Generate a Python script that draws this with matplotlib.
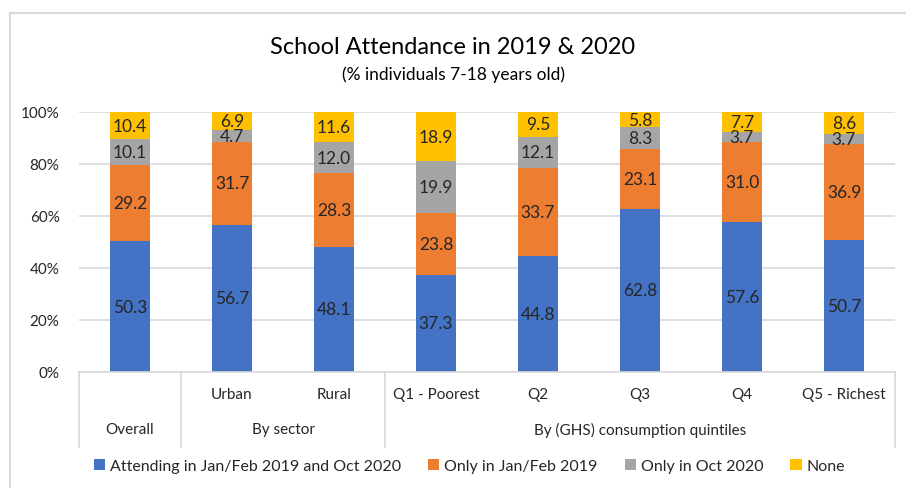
import numpy as np
import matplotlib
matplotlib.use("Agg")
import matplotlib.pyplot as plt
from matplotlib.lines import Line2D
from matplotlib.patches import Patch

plt.rcParams['font.family'] = ['Lato', 'DejaVu Sans']

# data
categories = ["Overall", "Urban", "Rural", "Q1 - Poorest", "Q2", "Q3", "Q4", "Q5 - Richest"]
attending_both = [50.3, 56.7, 48.1, 37.3, 44.8, 62.8, 57.6, 50.7]
only_2019 = [29.2, 31.7, 28.3, 23.8, 33.7, 23.1, 31.0, 36.9]
only_2020 = [10.1, 4.7, 12.0, 19.9, 12.1, 8.3, 3.7, 3.7]
none = [10.4, 6.9, 11.6, 18.9, 9.5, 5.8, 7.7, 8.6]
series_names = ["Attending in Jan/Feb 2019 and Oct 2020", "Only in Jan/Feb 2019",
                "Only in Oct 2020", "None"]
groups = [("Overall", 0, 1), ("By sector", 1, 3), ("By (GHS) consumption quintiles", 3, 8)]

colors = ["#4472C4", "#ED7D31", "#A5A5A5", "#FFC000"]
grid_col = "#D9D9D9"
text_col = "#262626"

series = np.array([attending_both, only_2019, only_2020, none])
shares = series / series.sum(axis=0) * 100  # 100% stacked

fig = plt.figure(figsize=(9.06, 4.89), dpi=100)
ax = fig.add_axes([79 / 906, 1 - 373 / 489, (895 - 79) / 906, (373 - 113) / 489])

x = np.arange(len(categories))
bottom = np.zeros(len(categories))
for vals, raw, col in zip(shares, series, colors):
    ax.bar(x, vals, bottom=bottom, width=0.4, color=col, zorder=2)
    for xi, b, v, r in zip(x, bottom, vals, raw):
        ax.text(xi, b + v / 2, f"{r:.1f}", ha="center", va="center",
                fontsize=12.5, color=text_col, zorder=3)
    bottom += vals

ax.set_xlim(-0.5, len(categories) - 0.5)
ax.set_ylim(0, 100)
ax.set_yticks(np.arange(0, 101, 20))
ax.set_yticklabels([f"{v}%" for v in range(0, 101, 20)], fontsize=11, color=text_col)
ax.yaxis.grid(True, color=grid_col, linewidth=1.2, zorder=0)
ax.tick_params(axis="y", length=0, pad=14)
ax.set_xticks([])
for s in ["left", "right", "top"]:
    ax.spines[s].set_visible(False)
ax.spines["bottom"].set_color(grid_col)
ax.spines["bottom"].set_linewidth(1.2)

# multi-level category axis
trans = ax.get_xaxis_transform()
for xi, name in enumerate(categories):
    if name == "Overall":
        continue
    ax.text(xi, -0.085, name, transform=trans, ha="center", va="center",
            fontsize=11, color=text_col)
for gname, start, end in groups:
    ax.text((start + end - 1) / 2, -0.22, gname, transform=trans, ha="center",
            va="center", fontsize=11, color=text_col)
for edge in [-0.5, 0.5, 2.5, 7.5]:
    ax.add_line(Line2D([edge, edge], [0, -0.29], transform=trans, color=grid_col,
                       linewidth=1.2, clip_on=False))

# titles
fig.text(0.5, 1 - 47 / 489, "School Attendance in 2019 & 2020", ha="center", va="center",
         fontsize=17, color="black")
fig.text(0.5, 1 - 75 / 489, "(% individuals 7-18 years old)", ha="center", va="center",
         fontsize=12.5, color="black")

handles = [Patch(facecolor=c, edgecolor="none") for c in colors]
fig.legend(handles, series_names, loc="center", bbox_to_anchor=(0.518, 1 - 467 / 489),
           ncol=4, frameon=False, fontsize=11.5, handlelength=0.7, handleheight=0.7,
           handletextpad=0.3, columnspacing=1.7, labelcolor=text_col)

# chart border
fig.add_artist(Line2D([10 / 906, 10 / 906], [0, 1 - 14 / 489], transform=fig.transFigure,
                      color=grid_col, linewidth=1.5))
fig.add_artist(Line2D([10 / 906, 1], [1 - 14 / 489, 1 - 14 / 489], transform=fig.transFigure,
                      color=grid_col, linewidth=1.5))

fig.savefig("out.png", dpi=100)
